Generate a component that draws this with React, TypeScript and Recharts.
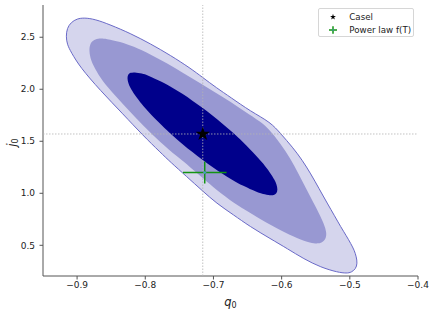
import React from 'react';
import {
  ScatterChart,
  Scatter,
  XAxis,
  YAxis,
  ZAxis,
  ReferenceLine,
  Legend,
  Symbols,
} from 'recharts';

// ---- data (q0, j0) ----
const xTicks = [-0.9, -0.8, -0.7, -0.6, -0.5, -0.4];
const yTicks = [0.5, 1.0, 1.5, 2.0, 2.5];
const xDomain = [-0.95, -0.4];
const yDomain = [0.205, 2.81];

// outer (light) contour boundary
const outerContour: [number, number][] = [
  [-0.9162, 2.51], [-0.9147, 2.587], [-0.9088, 2.644], [-0.9, 2.678], [-0.8897, 2.688],
  [-0.8735, 2.673], [-0.8515, 2.62], [-0.8221, 2.538], [-0.7926, 2.438], [-0.7632, 2.327],
  [-0.7338, 2.202], [-0.7162, 2.115], [-0.6956, 2.014], [-0.675, 1.923], [-0.6456, 1.788],
  [-0.6162, 1.683], [-0.6015, 1.574], [-0.5838, 1.442], [-0.5696, 1.317], [-0.5574, 1.189],
  [-0.5451, 1.045], [-0.5328, 0.901], [-0.5228, 0.7885], [-0.5132, 0.676], [-0.5051, 0.591],
  [-0.4985, 0.516], [-0.4934, 0.452], [-0.4904, 0.389], [-0.489, 0.327], [-0.4912, 0.274],
  [-0.4978, 0.24], [-0.5044, 0.231], [-0.5176, 0.24], [-0.5426, 0.2885], [-0.5676, 0.37],
  [-0.5912, 0.466], [-0.6162, 0.5625], [-0.6471, 0.683], [-0.6706, 0.793], [-0.6956, 0.904],
  [-0.7162, 1.024], [-0.7397, 1.163], [-0.7632, 1.301], [-0.7779, 1.394], [-0.8029, 1.553],
  [-0.8324, 1.76], [-0.8662, 1.99], [-0.8956, 2.212], [-0.9088, 2.356], [-0.9147, 2.433],
];

// middle contour boundary
const middleContour: [number, number][] = [
  [-0.8824, 2.375], [-0.8809, 2.442], [-0.875, 2.476], [-0.8676, 2.49], [-0.8574, 2.486],
  [-0.8368, 2.457], [-0.8176, 2.413], [-0.7926, 2.337], [-0.7676, 2.25], [-0.7441, 2.154],
  [-0.7191, 2.058], [-0.6956, 1.962], [-0.675, 1.88], [-0.6529, 1.779], [-0.6309, 1.6875],
  [-0.6191, 1.62], [-0.6015, 1.476], [-0.5868, 1.332], [-0.5757, 1.192], [-0.5647, 1.053],
  [-0.5537, 0.9135], [-0.5426, 0.774], [-0.5375, 0.697], [-0.5343, 0.63], [-0.5346, 0.572],
  [-0.539, 0.534], [-0.5456, 0.514], [-0.5574, 0.522], [-0.5765, 0.564], [-0.6015, 0.644],
  [-0.6221, 0.716], [-0.6456, 0.808], [-0.6706, 0.909], [-0.6956, 1.029], [-0.7147, 1.144],
  [-0.7338, 1.25], [-0.7529, 1.351], [-0.7779, 1.49], [-0.8029, 1.649], [-0.8265, 1.8125],
  [-0.8515, 1.99], [-0.8662, 2.111], [-0.8765, 2.231], [-0.8809, 2.308],
];

// inner (dark) contour boundary
const innerContour: [number, number][] = [
  [-0.8266, 2.11], [-0.825, 2.145], [-0.8221, 2.159], [-0.8162, 2.165], [-0.8044, 2.152],
  [-0.7971, 2.137], [-0.775, 2.07], [-0.7603, 2.016], [-0.7456, 1.957], [-0.7309, 1.891],
  [-0.7162, 1.822], [-0.7015, 1.749], [-0.6868, 1.67], [-0.6721, 1.587], [-0.6574, 1.498],
  [-0.6353, 1.349], [-0.6279, 1.293], [-0.6162, 1.192], [-0.6103, 1.128], [-0.6074, 1.086],
  [-0.6057, 1.035], [-0.6074, 1.0], [-0.6103, 0.986], [-0.6162, 0.979], [-0.6279, 0.992],
  [-0.6353, 1.008], [-0.6574, 1.074], [-0.6721, 1.128], [-0.6868, 1.188], [-0.7015, 1.253],
  [-0.7162, 1.322], [-0.7309, 1.395], [-0.7456, 1.474], [-0.7603, 1.557], [-0.775, 1.646],
  [-0.7971, 1.795], [-0.8044, 1.851], [-0.8162, 1.952], [-0.8221, 2.016], [-0.825, 2.059],
];

const caselPoint = [{ x: -0.7157, y: 1.57 }];
const powerLawPoint = { x: -0.7128, y: 1.199, ex: 0.032, ey: 0.105 };
const legendLabels = ['Casel', 'Power law f(T)'];

const toPts = (arr: [number, number][]) => arr.map(([x, y]) => ({ x, y }));

// error bar segments built from the power-law point and its errors
const powerLawXErr = [
  { x: powerLawPoint.x - powerLawPoint.ex, y: powerLawPoint.y },
  { x: powerLawPoint.x + powerLawPoint.ex, y: powerLawPoint.y },
];
const powerLawYErr = [
  { x: powerLawPoint.x, y: powerLawPoint.y - powerLawPoint.ey },
  { x: powerLawPoint.x, y: powerLawPoint.y + powerLawPoint.ey },
];

const FONT = 'DejaVu Sans';
const SPINE = '#555';
const GREEN = '#139413';

const fmtX = (v: number) => (v < 0 ? '\u2212' + Math.abs(v).toFixed(1) : v.toFixed(1));
const fmtY = (v: number) => v.toFixed(1);

const Hidden = () => <g />;

const XLabel = (props: any) => {
  const vb = props && props.viewBox && props.viewBox.width ? props.viewBox : { x: 43, y: 276, width: 375, height: 40 };
  const cx = vb.x + vb.width / 2;
  return (
    <text x={cx} y={vb.y + 30} textAnchor="middle" fontFamily={FONT} fill="#222">
      <tspan fontStyle="italic" fontSize={11.5}>q</tspan>
      <tspan fontSize={8} dy={1.5}>0</tspan>
    </text>
  );
};

const YLabel = (props: any) => {
  const vb = props && props.viewBox && props.viewBox.height ? props.viewBox : { x: 0, y: 5, width: 43, height: 271 };
  const x = vb.x + 15.5;
  const y = vb.y + vb.height / 2 + 2;
  return (
    <text x={x} y={y} transform={`rotate(-90 ${x} ${y})`} textAnchor="middle" fontFamily={FONT} fill="#222">
      <tspan fontStyle="italic" fontSize={11.5}>j</tspan>
      <tspan fontSize={8} dy={2}>0</tspan>
    </text>
  );
};

const PowerLawMarker = (props: any) => {
  const { cx, cy } = props;
  if (cx == null || cy == null) return <g />;
  return (
    <g>
      <line x1={cx - 1.5} y1={cy} x2={cx + 1.5} y2={cy} stroke="#4a9ad0" strokeWidth={1} />
      <line x1={cx} y1={cy - 1.5} x2={cx} y2={cy + 1.5} stroke="#4a9ad0" strokeWidth={1} />
    </g>
  );
};

const LegendBox = () => {
  const text: React.CSSProperties = {
    position: 'absolute',
    left: 30.3,
    lineHeight: '10px',
    height: 10,
    whiteSpace: 'nowrap',
    fontFamily: FONT,
    fontSize: 8.7,
    color: '#222',
  };
  return (
    <div
      style={{
        position: 'relative',
        width: 96,
        height: 29,
        boxSizing: 'border-box',
        border: '1px solid #d6d6d6',
        borderRadius: 2,
        background: 'rgba(255,255,255,0.85)',
      }}
    >
      <svg width={12} height={12} style={{ position: 'absolute', left: 8.3, top: 2 }}>
        <Symbols cx={6} cy={6} type="star" size={11} fill="#000" />
      </svg>
      <div style={{ ...text, top: 3 }}>{legendLabels[0]}</div>
      <svg width={12} height={12} style={{ position: 'absolute', left: 8.3, top: 14.5 }}>
        <line x1={2} y1={6} x2={10} y2={6} stroke={GREEN} strokeWidth={1.5} />
        <line x1={6} y1={2.2} x2={6} y2={9.8} stroke={GREEN} strokeWidth={1.5} />
        <line x1={5} y1={6} x2={7} y2={6} stroke="#4a9ad0" strokeWidth={1} />
      </svg>
      <div style={{ ...text, top: 15.5 }}>{legendLabels[1]}</div>
    </div>
  );
};

export default function App() {
  return (
    <div style={{ position: 'absolute', left: 0, top: 0 }}>
      <ScatterChart width={436} height={316} margin={{ top: 5, right: 18, bottom: 0, left: 0 }}>
        <XAxis
          dataKey="x"
          type="number"
          domain={xDomain}
          ticks={xTicks}
          interval={0}
          allowDataOverflow
          tickFormatter={fmtX}
          height={40}
          tickSize={3.5}
          tickMargin={2}
          stroke={SPINE}
          tick={{ fontSize: 9, fill: '#222', fontFamily: FONT }}
          label={XLabel}
        />
        <YAxis
          dataKey="y"
          type="number"
          domain={yDomain}
          ticks={yTicks}
          interval={0}
          allowDataOverflow
          tickFormatter={fmtY}
          width={43}
          tickSize={3.5}
          tickMargin={4.5}
          stroke={SPINE}
          tick={{ fontSize: 9, fill: '#222', fontFamily: FONT }}
          label={YLabel}
        />
        <XAxis xAxisId="top" orientation="top" type="number" domain={xDomain} allowDataOverflow height={0} tick={false} tickLine={false} stroke={SPINE} />
        <YAxis yAxisId="right" orientation="right" type="number" domain={yDomain} allowDataOverflow width={0} tick={false} tickLine={false} stroke={SPINE} />
        <ZAxis range={[11, 11]} />

        <Scatter
          data={toPts(outerContour)}
          isAnimationActive={false}
          shape={Hidden}
          legendType="none"
          line={{ fill: '#d5d5ed', stroke: '#6a6ac8', strokeWidth: 1 }}
          lineType="joint"
          lineJointType="basisClosed"
        />
        <Scatter
          data={toPts(middleContour)}
          isAnimationActive={false}
          shape={Hidden}
          legendType="none"
          line={{ fill: '#9898d2', stroke: 'none' }}
          lineType="joint"
          lineJointType="basisClosed"
        />
        <Scatter
          data={toPts(innerContour)}
          isAnimationActive={false}
          shape={Hidden}
          legendType="none"
          line={{ fill: '#00008b', stroke: 'none' }}
          lineType="joint"
          lineJointType="basisClosed"
        />

        <ReferenceLine x={caselPoint[0].x} stroke="#b4b4b4" strokeWidth={0.8} strokeDasharray="1.5 1.5" zIndex={650} />
        <ReferenceLine y={caselPoint[0].y} stroke="#b4b4b4" strokeWidth={0.8} strokeDasharray="1.5 1.5" zIndex={650} />

        <Scatter
          data={powerLawXErr}
          isAnimationActive={false}
          shape={Hidden}
          legendType="none"
          line={{ stroke: GREEN, strokeWidth: 1.5, fill: 'none' }}
          lineType="joint"
          zIndex={700}
        />
        <Scatter
          data={powerLawYErr}
          isAnimationActive={false}
          shape={Hidden}
          legendType="none"
          line={{ stroke: GREEN, strokeWidth: 1.5, fill: 'none' }}
          lineType="joint"
          zIndex={700}
        />
        <Scatter data={[powerLawPoint]} isAnimationActive={false} shape={PowerLawMarker} legendType="none" zIndex={700} />
        <Scatter data={caselPoint} isAnimationActive={false} shape="star" fill="#000" legendType="none" zIndex={700} />

        <Legend
          layout="vertical"
          align="center"
          verticalAlign="middle"
          wrapperStyle={{ left: 318, top: 8, width: 96, height: 29 }}
          content={LegendBox}
        />
      </ScatterChart>
    </div>
  );
}
